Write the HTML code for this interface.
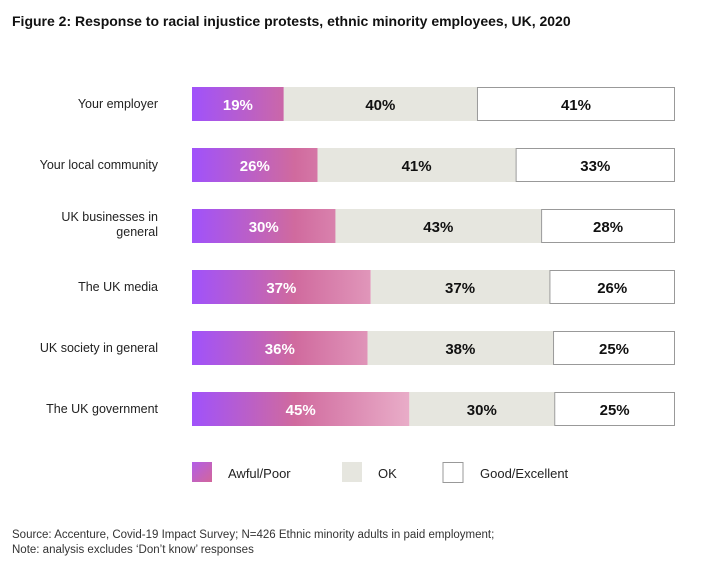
<!DOCTYPE html>
<html><head><meta charset="utf-8">
<style>
body{margin:0;background:#fff;width:715px;height:574px;overflow:hidden;font-family:"Liberation Sans",sans-serif;}
</style></head>
<body>
<svg id="chart" width="715" height="574" xmlns="http://www.w3.org/2000/svg">
<defs>
<linearGradient id="g1" gradientUnits="userSpaceOnUse" x1="192" y1="0" x2="420" y2="0">
<stop offset="0" stop-color="#a052fb"/><stop offset="0.45" stop-color="#d06a9e"/><stop offset="1" stop-color="#ebb3cc"/>
</linearGradient>
<linearGradient id="gl" x1="0" y1="0" x2="1" y2="1">
<stop offset="0" stop-color="#b25ee8"/><stop offset="1" stop-color="#d2669a"/>
</linearGradient>
</defs>
<text x="12" y="26" font-size="14" font-weight="bold" fill="#111">Figure 2:  Response to racial injustice protests, ethnic minority employees, UK, 2020</text>
<g id="bars"></g>
<g>
<rect x="192" y="462" width="20" height="20" fill="url(#gl)"/>
<text x="228" y="478" font-size="13" fill="#222">Awful/Poor</text>
<rect x="342" y="462" width="20" height="20" fill="#e6e6df"/>
<text x="378" y="478" font-size="13" fill="#222">OK</text>
<rect x="443" y="462.5" width="20" height="20" fill="#fff" stroke="#999" stroke-width="1"/>
<text x="480" y="478" font-size="13" fill="#222">Good/Excellent</text>
</g>
<text x="12" y="538" font-size="11.5" fill="#333">Source: Accenture, Covid-19 Impact Survey; N=426 Ethnic minority adults in paid employment;</text>
<text x="12" y="553" font-size="11.5" fill="#333">Note: analysis excludes ‘Don’t know’ responses</text>
</svg>
<script>
const categories=[["Your employer"],["Your local community"],["UK businesses in","general"],["The UK media"],["UK society in general"],["The UK government"]];
const awful=[19,26,30,37,36,45];
const ok=[40,41,43,37,38,30];
const good=[41,33,28,26,25,25];
const X0=192,W=483,Y0=87,STEP=61,H=34;
const g=document.getElementById('bars');
const NS="http://www.w3.org/2000/svg";
function mk(t,a){const e=document.createElementNS(NS,t);for(const k in a)e.setAttribute(k,a[k]);return e;}
categories.forEach((c,i)=>{
  const y=Y0+i*STEP;
  const total=awful[i]+ok[i]+good[i];
  const sx=v=>v/total*W;
  const lab=mk('text',{x:158,'text-anchor':'end','font-size':12.5,fill:'#222'});
  
  
  c.forEach((l,j)=>{const ts=mk('tspan',{x:158,y:(c.length>1?y+12:y+21)+j*15});ts.textContent=l;lab.appendChild(ts);});
  g.appendChild(lab);
  const segs=[[awful[i],'url(#g1)','#fff'],[ok[i],'#e6e6df','#111'],[good[i],'#fff','#111']];
  let x=X0;
  segs.forEach((s,k)=>{
    const w=sx(s[0]);
    const r=mk('rect',{x:x,y:y,width:w,height:H,fill:s[1]});
    if(k===2){r.setAttribute('stroke','#999');r.setAttribute('stroke-width','1');r.setAttribute('x',x+0.5);r.setAttribute('y',y+0.5);r.setAttribute('width',w-1);r.setAttribute('height',H-1);}
    
    
    g.appendChild(r);
    const t=mk('text',{x:x+w/2,y:y+23,'text-anchor':'middle','font-size':15,'font-weight':'bold',fill:s[2]});
    t.textContent=s[0]+'%';
    
    
    g.appendChild(t);
    x+=w;
  });
});
</script>
</body></html>
